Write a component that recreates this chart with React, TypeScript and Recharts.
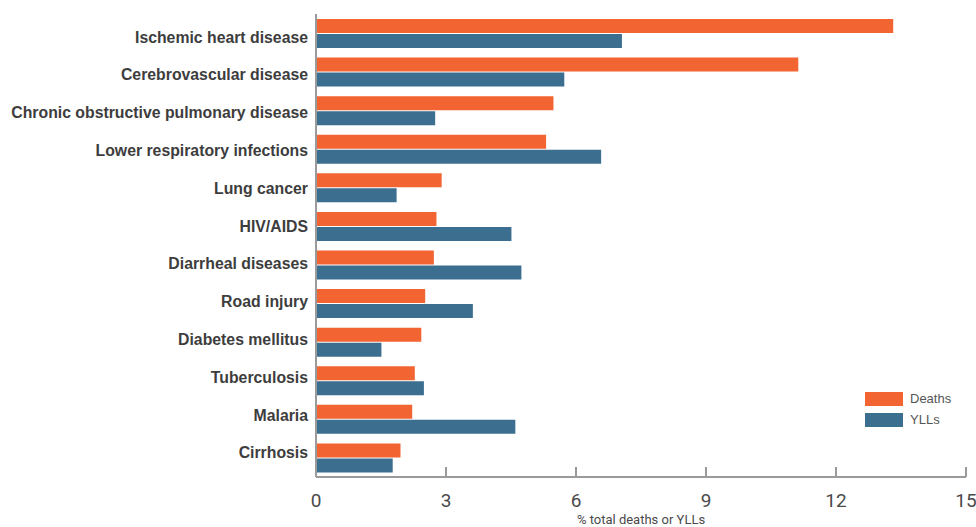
import React from 'react';
import { BarChart, Bar, XAxis, YAxis } from 'recharts';

const causes = [
  'Ischemic heart disease',
  'Cerebrovascular disease',
  'Chronic obstructive pulmonary disease',
  'Lower respiratory infections',
  'Lung cancer',
  'HIV/AIDS',
  'Diarrheal diseases',
  'Road injury',
  'Diabetes mellitus',
  'Tuberculosis',
  'Malaria',
  'Cirrhosis',
];
const deaths = [13.32, 11.13, 5.48, 5.31, 2.9, 2.78, 2.72, 2.52, 2.43, 2.28, 2.22, 1.95];
const ylls = [7.06, 5.73, 2.75, 6.58, 1.86, 4.51, 4.74, 3.62, 1.51, 2.49, 4.6, 1.77];
const xTicks = [0, 3, 6, 9, 12, 15];
const seriesNames = ['Deaths', 'YLLs'];

const ORANGE = '#F26532';
const BLUE = '#3C6E8F';
const AXIS = '#9a9a9a';
const SANS = '"Liberation Sans", Arial, sans-serif';
const NARROW = '"Liberation Sans Narrow", "Arial Narrow", "Roboto", sans-serif';

const data = causes.map((cause, i) => ({ cause, deaths: deaths[i], ylls: ylls[i] }));

const CauseTick = ({ x, y, payload, index }: any) => (
  <text
    x={x - 8}
    y={y + 5 + (5.5 - index) * 0.8}
    textAnchor="end"
    fontFamily={SANS}
    fontWeight="bold"
    fontSize={15.8}
    fill="#3d3d3d"
  >
    {payload.value}
  </text>
);

const ValueTick = ({ x, y, payload }: any) => (
  <g>
    <line x1={x} x2={x} y1={y - 10} y2={y} stroke={AXIS} strokeWidth={2} />
    <text x={x} y={y + 30} textAnchor="middle" fontFamily={NARROW} fontSize={19} fill="#4a4a4a">
      {payload.value}
    </text>
  </g>
);

function ChartLegend() {
  const colors = [ORANGE, BLUE];
  return (
    <div
      style={{
        position: 'absolute',
        left: 865,
        top: 388,
        fontFamily: SANS,
        fontSize: 13,
        color: '#555',
      }}
    >
      {seriesNames.map((name, i) => (
        <div key={name} style={{ display: 'flex', alignItems: 'center', height: 21 }}>
          <span style={{ display: 'inline-block', width: 38, height: 14, background: colors[i], marginRight: 7 }} />
          <span>{name}</span>
        </div>
      ))}
    </div>
  );
}

export default function App() {
  return (
    <div style={{ position: 'absolute', left: 0, top: 0, width: 976, height: 527, background: '#fff' }}>
      <BarChart
        width={976}
        height={527}
        data={data}
        layout="vertical"
        margin={{ top: 14, right: 10, left: 0, bottom: 0 }}
        barSize={14}
        barGap={1}
      >
        <XAxis
          type="number"
          domain={[0, 15]}
          ticks={xTicks}
          height={50}
          axisLine={{ stroke: AXIS, strokeWidth: 2 }}
          tickLine={false}
          tickSize={0}
          tickMargin={0}
          tick={<ValueTick />}
          interval={0}
          label={{
            value: '% total deaths or YLLs',
            position: 'insideBottom',
            offset: 3,
            fontFamily: NARROW,
            fontSize: 13,
            fill: '#4a4a4a',
          }}
        />
        <YAxis
          type="category"
          dataKey="cause"
          width={316}
          axisLine={{ stroke: AXIS, strokeWidth: 2 }}
          tickLine={false}
          tickSize={0}
          tickMargin={0}
          tick={<CauseTick />}
          interval={0}
        />
        <Bar dataKey="deaths" name={seriesNames[0]} fill={ORANGE} isAnimationActive={false} />
        <Bar dataKey="ylls" name={seriesNames[1]} fill={BLUE} isAnimationActive={false} />
      </BarChart>
      <ChartLegend />
    </div>
  );
}
